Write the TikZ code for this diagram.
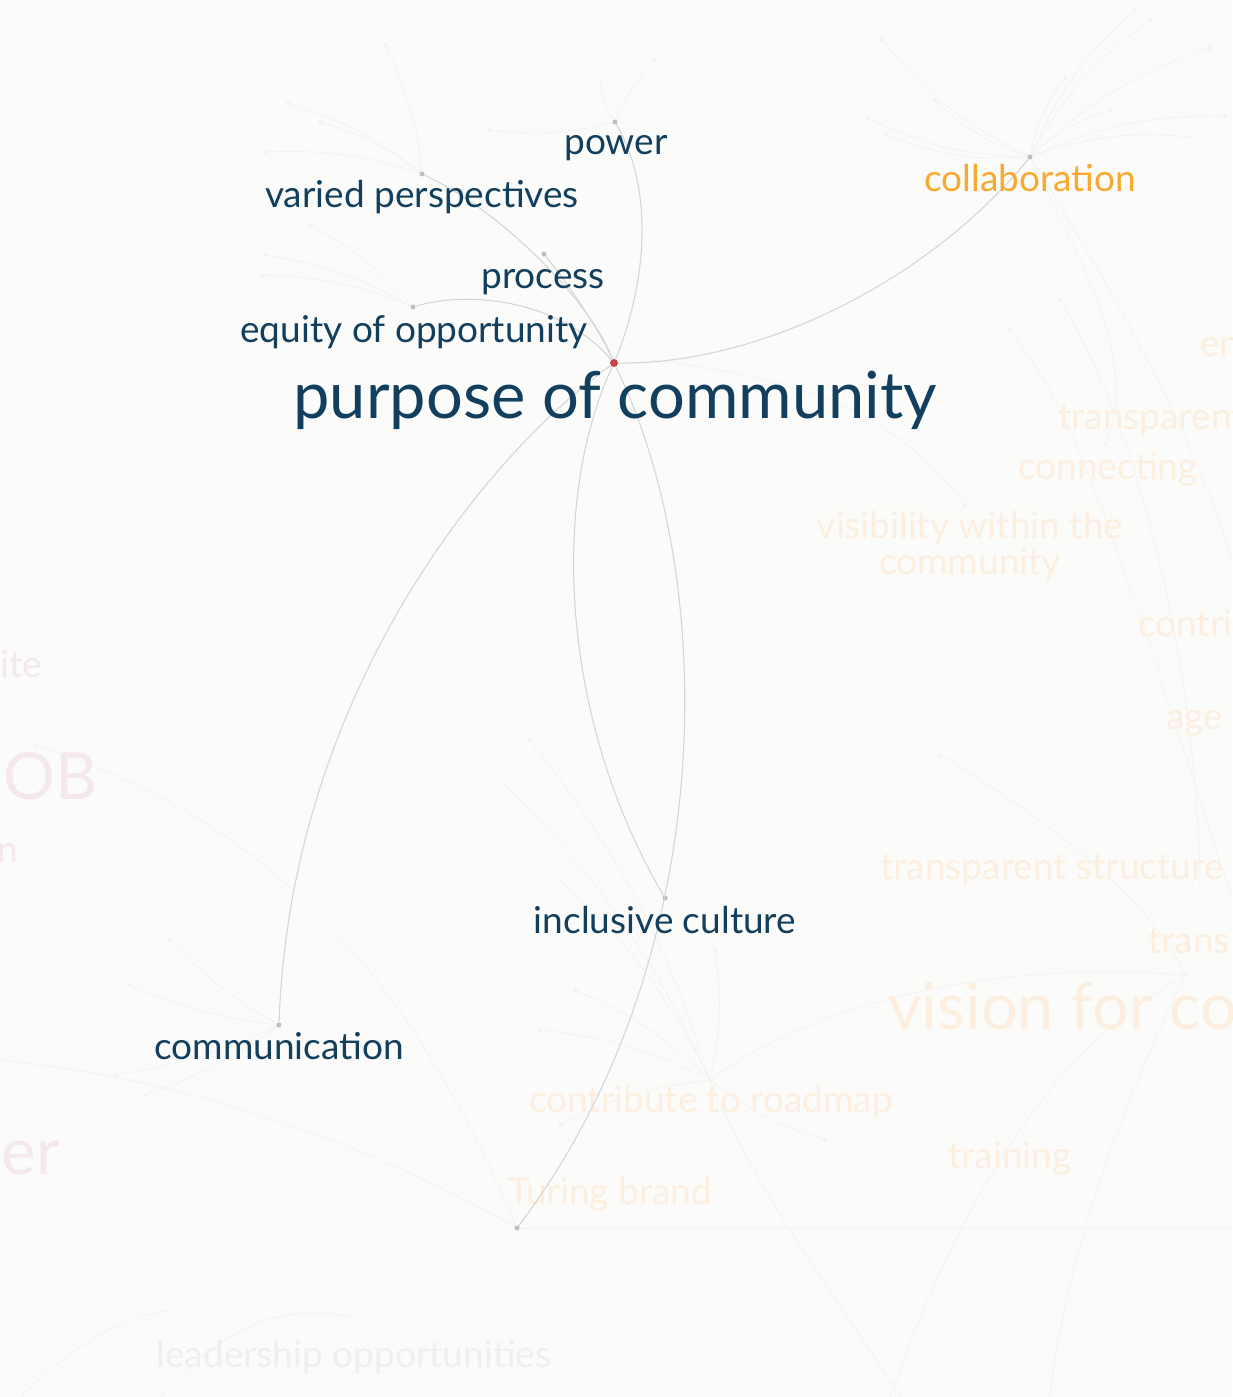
\documentclass[tikz,border=0pt]{standalone}
\usepackage{fontspec}
\setmainfont{Lato}
\definecolor{bg}{HTML}{FBFBFA}
\definecolor{navy}{HTML}{123F5E}
\definecolor{orng}{HTML}{F9A930}
\definecolor{forng}{HTML}{FCEFDF}
\definecolor{fpink}{HTML}{F4E8EE}
\definecolor{flav}{HTML}{EEEEF3}
\definecolor{edgegray}{HTML}{D6D6D6}
\definecolor{faintgray}{HTML}{F3F3F2}
\definecolor{dotgray}{HTML}{BFBFBF}
\definecolor{reddot}{HTML}{C5434B}
\tikzset{
  lbl/.style={font=\fontsize{37}{42}\selectfont, text=navy, anchor=base, inner sep=0pt},
  biglbl/.style={font=\fontsize{65}{72}\selectfont, text=navy, anchor=base, inner sep=0pt},
  flbl/.style={font=\fontsize{37}{42}\selectfont, anchor=base, inner sep=0pt},
  fbig/.style={font=\fontsize{65}{72}\selectfont, anchor=base, inner sep=0pt},
  dotn/.style={circle, fill=dotgray, minimum size=5pt, inner sep=0pt},
  hubdot/.style={circle, fill=reddot, minimum size=8pt, inner sep=0pt},
  fdot/.style={circle, fill=faintgray, minimum size=4pt, inner sep=0pt},
  edge/.style={draw=edgegray, line width=1.1pt},
  fedge/.style={draw=faintgray, line width=0.8pt}
}
\begin{document}
\begin{tikzpicture}[x=1pt,y=-1pt]
\useasboundingbox (0,0) rectangle (1232,1397);
\fill[bg] (0,0) rectangle (1232,1397);
\clip (0,0) rectangle (1232,1397);

% ---------- faint background hubs and dots ----------
\node[fdot] (h1) at (1030,157) {};
\node[fdot] (h2) at (710,1080) {};
\node[fdot] (h3) at (1185,975) {};
\node[fdot] (f1) at (882,40) {};
\node[fdot] (f2) at (935,100) {};
\node[fdot] (f3) at (868,118) {};
\node[fdot] (f4) at (886,135) {};
\node[fdot] (f5) at (1065,78) {};
\node[fdot] (f6) at (1110,110) {};
\node[fdot] (f7) at (1150,20) {};
\node[fdot] (f8) at (1210,48) {};
\node[fdot] (f9) at (1190,137) {};
\node[fdot] (f10) at (1225,116) {};
\node[fdot] (f11) at (1135,10) {};
\node[fdot] (g1) at (530,740) {};
\node[fdot] (g2) at (505,785) {};
\node[fdot] (g3) at (560,880) {};
\node[fdot] (g4) at (575,990) {};
\node[fdot] (g5) at (540,1030) {};
\node[fdot] (g6) at (560,1125) {};
\node[fdot] (g7) at (825,1140) {};
\node[fdot] (g8) at (715,950) {};
\node[fdot] (k1) at (170,940) {};
\node[fdot] (k2) at (130,985) {};
\node[fdot] (k3) at (115,1075) {};
\node[fdot] (k4) at (145,1095) {};
\node[fdot] (k5) at (35,745) {};
\node[fdot] (m1) at (385,45) {};
\node[fdot] (m2) at (288,103) {};
\node[fdot] (m3) at (320,122) {};
\node[fdot] (m4) at (265,152) {};
\node[fdot] (m5) at (310,225) {};
\node[fdot] (m6) at (265,255) {};
\node[fdot] (m7) at (262,275) {};
\node[fdot] (m8) at (490,130) {};
\node[fdot] (m9) at (600,80) {};
\node[fdot] (m10) at (655,60) {};
\node[fdot] (n1) at (965,505) {};
\node[fdot] (n2) at (940,755) {};
\node[fdot] (n3) at (1105,445) {};
\node[fdot] (n4) at (1060,300) {};
\node[fdot] (n5) at (1010,330) {};

\foreach \f in {f1,f2,f3,f4,f5,f6,f7,f8,f9,f10,f11}
  \draw[fedge] (h1) to[bend left=12] (\f);
\draw[fedge] (h1) .. controls (1080,260) and (1140,360) .. (n3);
\draw[fedge] (h1) .. controls (1120,300) and (1200,450) .. (1232,560);
\draw[fedge] (n5) .. controls (1080,420) and (1120,550) .. (1232,900);
\foreach \g in {g1,g2,g3,g4,g5,g6,g7,g8}
  \draw[fedge] (h2) to[bend right=10] (\g);
\draw[fedge] (h2) .. controls (820,1000) and (1000,960) .. (h3);
\draw[fedge] (h2) .. controls (760,1200) and (840,1300) .. (900,1397);
\draw[fedge] (h3) .. controls (1100,1150) and (1060,1300) .. (1050,1397);
\draw[fedge] (h3) .. controls (1050,1050) and (960,1200) .. (890,1397);
\foreach \k in {k1,k2,k3,k4}
  \draw[fedge] (279,1025) to[bend left=8] (\k);
\draw[fedge] (k5) .. controls (200,800) and (380,900) .. (517,1228);
\draw[fedge] (0,1060) .. controls (200,1080) and (380,1150) .. (517,1228);
\draw[fedge] (517,1228) -- (1232,1228);
\foreach \m in {m1,m2,m3,m4}
  \draw[fedge] (422,174) to[bend right=10] (\m);
\foreach \m in {m5,m6,m7}
  \draw[fedge] (413,307) to[bend right=10] (\m);
\foreach \m in {m8,m9,m10}
  \draw[fedge] (615,122) to[bend left=10] (\m);
\draw[fedge] (n1) .. controls (900,420) and (820,380) .. (650,360);
\draw[fedge] (n2) .. controls (1050,820) and (1150,900) .. (h3);
\draw[fedge] (n4) .. controls (1150,450) and (1200,700) .. (1200,900);
\draw[fedge] (160,1397) .. controls (220,1330) and (280,1300) .. (355,1318);
\draw[fedge] (20,1397) .. controls (70,1350) and (110,1320) .. (170,1310);

% ---------- faint background labels ----------
\node[flbl, text=forng, anchor=base west] at (1200,356) {en};
\node[flbl, text=forng, anchor=base west] at (1058,429) {transparent};
\node[flbl, text=forng] at (1108,479) {connecting};
\node[flbl, text=forng] at (970,538) {visibility within the};
\node[flbl, text=forng] at (970,574) {community};
\node[flbl, text=forng, anchor=base west] at (1138,636) {contri};
\node[flbl, text=forng, anchor=base west] at (1166,729) {age};
\node[flbl, text=forng] at (1052,879) {transparent structure};
\node[flbl, text=forng, anchor=base west] at (1148,953) {trans};
\node[fbig, text=forng, anchor=base west] at (888,1029) {vision for co};
\node[flbl, text=forng] at (711,1112) {contribute to roadmap};
\node[flbl, text=forng] at (1010,1168) {training};
\node[flbl, text=forng] at (610,1204) {Turing brand};
\node[flbl, text=flav] at (354,1367) {leadership opportunities};
\node[flbl, text=fpink, anchor=base east] at (42,677) {ite};
\node[fbig, text=fpink, anchor=base east] at (98,799) {OB};
\node[flbl, text=fpink, anchor=base east] at (18,862) {n};
\node[fbig, text=fpink, anchor=base east] at (60,1174) {er};

% ---------- main nodes ----------
\node[hubdot] (pc) at (614,363) {};
\node[dotn] (pw) at (615,122) {};
\node[dotn] (vp) at (422,174) {};
\node[dotn] (pr) at (544,254) {};
\node[dotn] (eq) at (413,307) {};
\node[dotn] (co) at (1030,157) {};
\node[dotn] (ic) at (665,898) {};
\node[dotn] (cm) at (279,1025) {};
\node[dotn] (tb) at (517,1228) {};

% ---------- main connectors ----------
\draw[edge] (pc) .. controls (640,300) and (660,200) .. (pw);
\draw[edge] (pc) .. controls (590,300) and (500,210) .. (vp);
\draw[edge] (pc) .. controls (600,330) and (565,280) .. (pr);
\draw[edge] (pc) .. controls (560,300) and (470,290) .. (eq);
\draw[edge] (pc) .. controls (760,365) and (930,280) .. (co);
\draw[edge] (pc) .. controls (550,500) and (560,720) .. (ic);
\draw[edge] (pc) .. controls (720,580) and (720,960) .. (tb);
\draw[edge] (pc) .. controls (480,460) and (290,700) .. (cm);

% ---------- main labels ----------
\node[lbl] (tpw) at (616,154) {power};
\node[lbl] (tvp) at (422,207) {varied perspectives};
\node[lbl] (tpr) at (543,288) {process};
\node[lbl] (teq) at (414,342) {equity of opportunity};
\node[biglbl] (tpc) at (615,418) {purpose of community};
\node[lbl, text=orng] (tco) at (1030,191) {collaboration};
\node[lbl] (tic) at (665,933) {inclusive culture};
\node[lbl] (tcm) at (279,1059) {communication};
\end{tikzpicture}
\end{document}
